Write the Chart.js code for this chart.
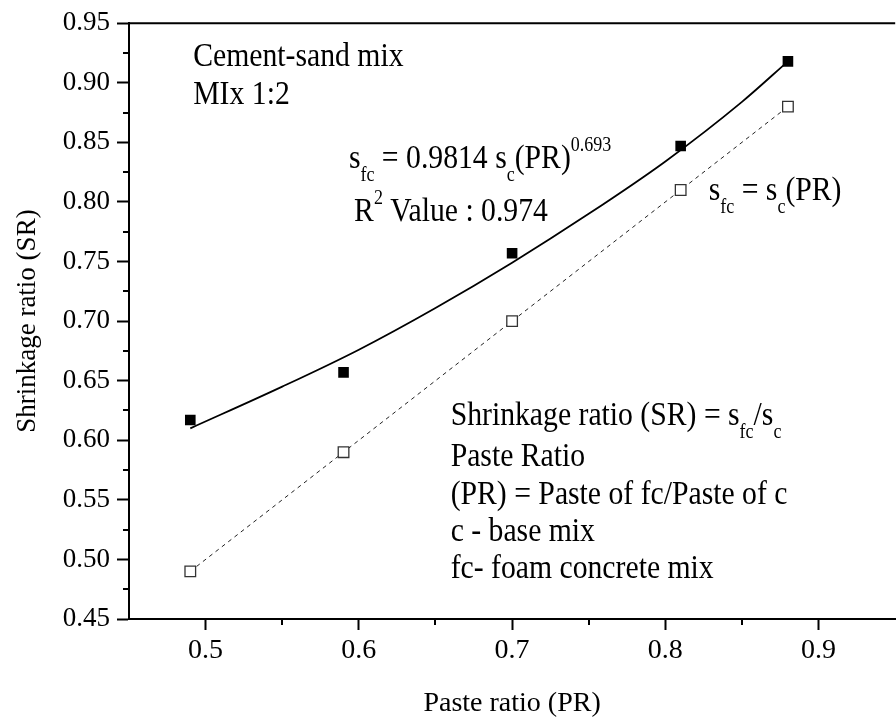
<!DOCTYPE html>
<html lang="en">
<head>
    <meta charset="UTF-8">
    <title>Shrinkage ratio vs paste ratio</title>
    <script src="https://cdn.jsdelivr.net/npm/chart.js"></script>
    <style>
        html, body { margin: 0; padding: 0; background: #fff; overflow: hidden; }
        #wrap { width: 904px; height: 723px; }
    </style>
</head>
<body>
    <div id="wrap">
        <canvas id="srChart" width="904" height="723"></canvas>
    </div>

    <script>
        // values
        const prValues = [0.49, 0.59, 0.70, 0.81, 0.88];
        const srMeasured = [0.617, 0.657, 0.757, 0.847, 0.918];
        const srBase = [0.49, 0.59, 0.70, 0.81, 0.88];      // s_fc = s_c(PR)

        // fitted curve
        const fitX = [0.49, 0.55, 0.60, 0.65, 0.70, 0.75, 0.80, 0.85, 0.88];
        const fitY = [0.610, 0.645, 0.676, 0.711, 0.749, 0.790, 0.834, 0.884, 0.918];

        const xTicks = [0.5, 0.6, 0.7, 0.8, 0.9];
        const xMinorTicks = [0.55, 0.65, 0.75, 0.85];
        const yTicks = [0.45, 0.50, 0.55, 0.60, 0.65, 0.70, 0.75, 0.80, 0.85, 0.90, 0.95];
        const yMinorTicks = [0.475, 0.525, 0.575, 0.625, 0.675, 0.725, 0.775, 0.825, 0.875, 0.925];

        const SERIF = '"Liberation Serif", "Times New Roman", serif';
        const MAIN = '33px ' + SERIF;
        const SMALL = '20px ' + SERIF;

        // text blocks: [x, y] in data units, parts = [text, 'sub'|'sup'|'']
        const notes = [
            { at: [0.4919, 0.914], parts: [['Cement-sand mix', '']] },
            { at: [0.4919, 0.8824], parts: [['MIx 1:2', '']] },
            { at: [0.5935, 0.8288], parts: [['s', ''], ['fc', 'sub'], [' = 0.9814 s', ''], ['c', 'sub'], ['(PR)', ''], ['0.693', 'sup']] },
            { at: [0.5969, 0.7844], parts: [['R', ''], ['2', 'sup'], [' Value : 0.974', '']] },
            { at: [0.8283, 0.8018], parts: [['s', ''], ['fc', 'sub'], [' = s', ''], ['c', 'sub'], ['(PR)', '']] },
            { at: [0.6599, 0.6125], parts: [['Shrinkage ratio (SR) = s', ''], ['fc', 'sub'], ['/s', ''], ['c', 'sub']] },
            { at: [0.6599, 0.5784], parts: [['Paste Ratio', '']] },
            { at: [0.6599, 0.5469], parts: [['(PR) = Paste of fc/Paste of c', '']] },
            { at: [0.6599, 0.5156], parts: [['c - base mix', '']] },
            { at: [0.6599, 0.4841], parts: [['fc- foam concrete mix', '']] }
        ];

        // the figure's lettering is narrow, so squeeze it a little
        function drawRich(ctx, x, y, parts) {
            ctx.save();
            ctx.translate(x, y);
            ctx.scale(0.9, 1);
            let cx = 0;
            parts.forEach(p => {
                ctx.font = p[1] ? SMALL : MAIN;
                let dy = 0;
                if (p[1] === 'sub') dy = 13;
                if (p[1] === 'sup') dy = -17;
                ctx.fillText(p[0], cx, dy);
                cx += ctx.measureText(p[0]).width;
            });
            ctx.restore();
        }

        // minor ticks, top frame line and the text notes
        const extras = {
            id: 'extras',
            afterDraw(chart) {
                const ctx = chart.ctx;
                const xs = chart.scales.x;
                const ys = chart.scales.y;
                const area = chart.chartArea;
                ctx.save();
                ctx.strokeStyle = '#000';
                ctx.lineWidth = 2;
                ctx.beginPath();
                xMinorTicks.forEach(v => {
                    const px = Math.round(xs.getPixelForValue(v));
                    ctx.moveTo(px, area.bottom);
                    ctx.lineTo(px, area.bottom + 6);
                });
                yMinorTicks.forEach(v => {
                    const py = Math.round(ys.getPixelForValue(v));
                    ctx.moveTo(area.left, py);
                    ctx.lineTo(area.left - 6, py);
                });
                ctx.moveTo(area.left, area.top);
                ctx.lineTo(area.right, area.top);
                ctx.stroke();

                ctx.fillStyle = '#000';
                ctx.textBaseline = 'alphabetic';
                ctx.textAlign = 'left';
                notes.forEach(n => {
                    drawRich(ctx, xs.getPixelForValue(n.at[0]), ys.getPixelForValue(n.at[1]), n.parts);
                });
                ctx.restore();
            }
        };

        const ctx = document.getElementById('srChart').getContext('2d');
        new Chart(ctx, {
            type: 'scatter',
            data: {
                datasets: [
                    {
                        label: 'Measured',
                        data: prValues.map((x, i) => ({ x: x, y: srMeasured[i] })),
                        pointStyle: 'rect',
                        pointRadius: 7.5,
                        backgroundColor: '#000',
                        borderColor: '#000',
                        borderWidth: 0,
                        showLine: false
                    },
                    {
                        label: 'Fit',
                        data: fitX.map((x, i) => ({ x: x, y: fitY[i] })),
                        showLine: true,
                        pointRadius: 0,
                        borderColor: '#000',
                        borderWidth: 1.8,
                        cubicInterpolationMode: 'monotone'
                    },
                    {
                        label: 's_fc = s_c(PR)',
                        data: prValues.map((x, i) => ({ x: x, y: srBase[i] })),
                        showLine: true,
                        borderColor: '#222',
                        borderWidth: 1,
                        borderDash: [4, 4],
                        pointStyle: 'rect',
                        pointRadius: 7.5,
                        pointBackgroundColor: '#fff',
                        pointBorderColor: '#333',
                        pointBorderWidth: 1.3
                    }
                ]
            },
            options: {
                responsive: false,
                animation: false,
                layout: { padding: { top: 22, right: 2, left: 0, bottom: 0 } },
                plugins: {
                    legend: { display: false },
                    tooltip: { enabled: false }
                },
                scales: {
                    x: {
                        type: 'linear',
                        min: 0.45,
                        max: 0.95,
                        afterBuildTicks: axis => { axis.ticks = xTicks.map(v => ({ value: v })); },
                        afterFit: axis => { axis.height = 104; },
                        border: { color: '#000', width: 2 },
                        grid: { drawOnChartArea: false, tickLength: 11, tickWidth: 2, tickColor: '#000' },
                        ticks: {
                            color: '#000',
                            padding: 4,
                            font: { family: SERIF, size: 28 },
                            callback: v => v.toFixed(1)
                        },
                        title: {
                            display: true,
                            text: 'Paste ratio (PR)',
                            color: '#000',
                            font: { family: SERIF, size: 28 },
                            padding: { top: 0, bottom: 3 }
                        }
                    },
                    y: {
                        type: 'linear',
                        min: 0.45,
                        max: 0.95,
                        afterBuildTicks: axis => { axis.ticks = yTicks.map(v => ({ value: v })); },
                        afterFit: axis => { axis.width = 129; },
                        border: { color: '#000', width: 2 },
                        grid: { drawOnChartArea: false, tickLength: 12, tickWidth: 2, tickColor: '#000' },
                        ticks: {
                            color: '#000',
                            padding: 7,
                            font: { family: SERIF, size: 27 },
                            callback: v => v.toFixed(2)
                        },
                        title: {
                            display: true,
                            text: 'Shrinkage ratio (SR)',
                            color: '#000',
                            font: { family: SERIF, size: 27 },
                            padding: { top: 12, bottom: 0 }
                        }
                    }
                }
            },
            plugins: [extras]
        });
    </script>
</body>
</html>
